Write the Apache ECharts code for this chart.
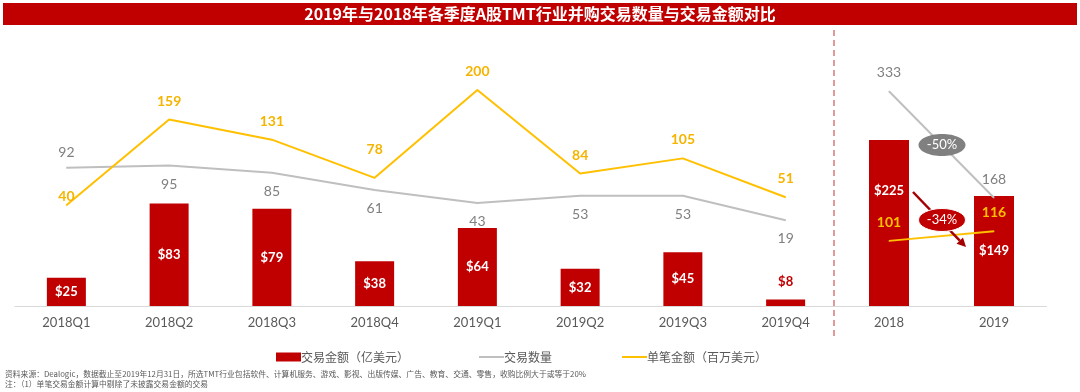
<!DOCTYPE html>
<html><head><meta charset="utf-8">
<script src="https://cdn.jsdelivr.net/npm/echarts@6/dist/echarts.min.js"></script>
<style>html,body{margin:0;padding:0;background:#fff}#c{width:1080px;height:392px}</style>
</head><body><div id="c"></div>
<script>
const quarters = ['2018Q1','2018Q2','2018Q3','2018Q4','2019Q1','2019Q2','2019Q3','2019Q4'];
const quarterAmount = [25, 83, 79, 38, 64, 32, 45, 8];
const quarterCount = [92, 95, 85, 61, 43, 53, 53, 19];
const quarterUnit = [40, 159, 131, 78, 200, 84, 105, 51];
const years = ['2018', '2019'];
const yearAmount = [225, 149];
const yearCount = [333, 168];
const yearUnit = [101, 116];
const legendNames = ['交易金额（亿美元）', '交易数量', '单笔金额（百万美元）'];
const titleText = '2019年与2018年各季度A股TMT行业并购交易数量与交易金额对比';
const note1 = '资料来源：Dealogic，数据截止至2019年12月31日，所选TMT行业包括软件、计算机服务、游戏、影视、出版传媒、广告、教育、交通、零售，收购比例大于或等于20%';
const note2 = '注：（1）单笔交易金额计算中剔除了未披露交易金额的交易';
const changeCount = '-50%';
const changeAmount = '-34%';

const RED = '#C00000', GRAY = '#BFBFBF', GRAYTXT = '#7F7F7F', YEL = '#FFC000', YELTXT = '#F5B400';
const NUMFONT = 'Lato';

const chart = echarts.init(document.getElementById('c'), null, {renderer: 'canvas'});

const barLabelBase = {show: true, color: '#fff', fontWeight: 'bold', fontSize: 13, fontFamily: NUMFONT, formatter: p => '$' + p.value};

const leftBars = quarterAmount.map(v => v < 15
  ? {value: v, label: {position: 'top', distance: 11, color: RED}}
  : {value: v});
const leftCount = quarterCount.map((v, i) => i === 0
  ? {value: v, label: {position: 'top', distance: 8}}
  : {value: v});
const leftUnit = quarterUnit.map((v, i) => {
  if (i === 0) return {value: v, label: {distance: 1}};
  if (v === 78) return {value: v, label: {distance: 21}};
  return {value: v};
});
const rightBars = yearAmount.map((v, i) => i === 0
  ? {value: v, label: {offset: [0, -32]}}
  : {value: v});

const xCommon = {
  type: 'category',
  axisTick: {show: false},
  axisLine: {onZero: false, lineStyle: {color: '#D9D9D9', width: 1}},
  axisLabel: {color: '#595959', fontSize: 13, fontFamily: NUMFONT, margin: 10}
};

const lineSeries = (name, xi, yi, color, labelCfg, data, z) => ({
  name, type: 'line', xAxisIndex: xi, yAxisIndex: yi,
  symbol: 'circle', symbolSize: 1, showSymbol: true,
  lineStyle: {color, width: 2}, itemStyle: {color},
  label: Object.assign({show: true, fontSize: 14, fontFamily: NUMFONT}, labelCfg),
  data, z
});

// arrow geometry
const a0 = [913, 192], a1 = [966, 247];
const ang = Math.atan2(a1[1] - a0[1], a1[0] - a0[0]);
const hl = 9, hw = 4.5;
const back = [a1[0] - hl * Math.cos(ang), a1[1] - hl * Math.sin(ang)];
const head = [
  a1,
  [back[0] + hw * Math.sin(ang), back[1] - hw * Math.cos(ang)],
  [back[0] - hw * Math.sin(ang), back[1] + hw * Math.cos(ang)]
];

const lineIcon = 'path://M0,0H25V2H0Z';

const option = {
  backgroundColor: '#fff',
  animation: false,
  grid: [
    {left: 15, right: 243, top: 41, bottom: 86},
    {left: 836.5, right: 33.5, top: 41, bottom: 86}
  ],
  xAxis: [
    Object.assign({gridIndex: 0, data: quarters}, xCommon),
    Object.assign({gridIndex: 1, data: years}, xCommon)
  ],
  yAxis: [
    {gridIndex: 0, type: 'value', min: 3, max: 210, show: false},
    {gridIndex: 0, type: 'value', min: -100, max: 268, show: false},
    {gridIndex: 1, type: 'value', min: 0, max: 359, show: false},
    {gridIndex: 1, type: 'value', min: 0, max: 411, show: false}
  ],
  legend: {
    left: 271, top: 346,
    itemWidth: 25, itemHeight: 9, itemGap: 70,
    symbolKeepAspect: true,
    textStyle: {color: '#595959', fontSize: 12, fontFamily: 'Noto Sans CJK SC', padding: [0, 0, 0, -5]},
    data: [
      {name: legendNames[0], icon: 'rect'},
      {name: legendNames[1], icon: lineIcon},
      {name: legendNames[2], icon: lineIcon}
    ]
  },
  series: [
    {
      name: legendNames[0], type: 'bar', xAxisIndex: 0, yAxisIndex: 0,
      barWidth: 39, itemStyle: {color: RED},
      label: Object.assign({position: 'inside'}, barLabelBase),
      data: leftBars, z: 2
    },
    lineSeries(legendNames[1], 0, 1, GRAY, {position: 'bottom', distance: 11, color: GRAYTXT}, leftCount, 3),
    lineSeries(legendNames[2], 0, 1, YEL, {position: 'top', distance: 11, color: YELTXT, fontWeight: 'bold'}, leftUnit, 4),
    {
      name: legendNames[0], type: 'bar', xAxisIndex: 1, yAxisIndex: 2,
      barWidth: 40, itemStyle: {color: RED},
      label: Object.assign({position: 'inside'}, barLabelBase),
      data: rightBars, z: 2
    },
    lineSeries(legendNames[1], 1, 3, GRAY, {position: 'top', distance: 11, color: GRAYTXT}, yearCount, 3),
    lineSeries(legendNames[2], 1, 3, YEL, {position: 'top', distance: 11, color: YEL, fontWeight: 'bold'}, yearUnit, 4)
  ],
  graphic: [
    {type: 'rect', left: 3, top: 3, shape: {width: 1074, height: 22}, style: {fill: RED}, z: 10},
    {type: 'text', x: 540, y: 14, style: {text: titleText, fill: '#fff', font: 'bold 16px "Noto Sans CJK SC"', textAlign: 'center', textVerticalAlign: 'middle'}, z: 11},
    {type: 'line', shape: {x1: 834, y1: 30, x2: 834, y2: 336}, style: {stroke: '#D77A7A', lineWidth: 1.5, lineDash: [6, 4]}, z: 10},
    {type: 'line', shape: {x1: a0[0], y1: a0[1], x2: back[0], y2: back[1]}, style: {stroke: '#A50000', lineWidth: 2.5}, z: 20},
    {type: 'polygon', shape: {points: head}, style: {fill: '#A50000'}, z: 20},
    {type: 'ellipse', shape: {cx: 942, cy: 145, rx: 23.5, ry: 11}, style: {fill: '#808080'}, z: 21},
    {type: 'text', x: 942, y: 145, style: {text: changeCount, fill: '#fff', font: '13px Lato', textAlign: 'center', textVerticalAlign: 'middle'}, z: 22},
    {type: 'ellipse', shape: {cx: 942, cy: 220, rx: 23.5, ry: 11.5}, style: {fill: RED, stroke: '#fff', lineWidth: 1}, z: 21},
    {type: 'text', x: 942, y: 220, style: {text: changeAmount, fill: '#fff', font: '13px Lato', textAlign: 'center', textVerticalAlign: 'middle'}, z: 22},
    {type: 'text', x: 5, y: 374, style: {text: note1, fill: '#595959', font: '7.8px "Noto Sans CJK SC"', textVerticalAlign: 'middle'}, z: 10},
    {type: 'text', x: 5, y: 384, style: {text: note2, fill: '#595959', font: '7.8px "Noto Sans CJK SC"', textVerticalAlign: 'middle'}, z: 10}
  ]
};
chart.setOption(option);
</script>
</body></html>
